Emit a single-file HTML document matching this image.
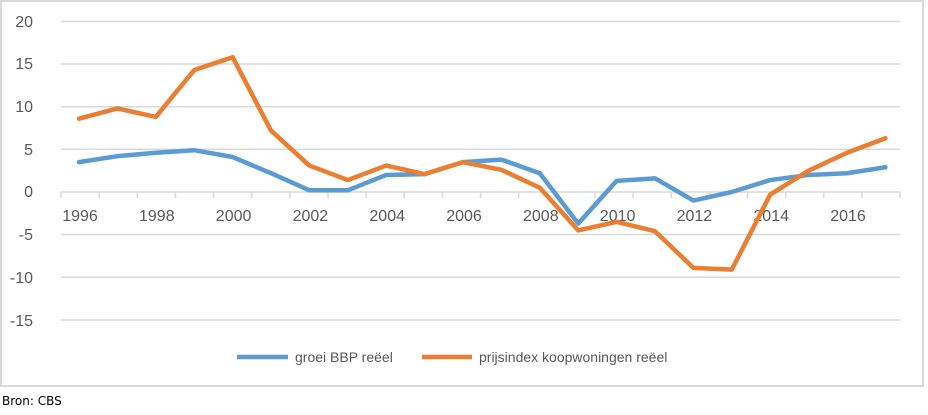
<!DOCTYPE html>
<html><head><meta charset="utf-8"><style>
body{margin:0;background:#fff;width:928px;height:415px;overflow:hidden;font-family:"Liberation Sans","DejaVu Sans",sans-serif}
</style></head><body>
<svg width="928" height="415" xmlns="http://www.w3.org/2000/svg" style="position:absolute;left:0;top:0">
<rect x="1" y="1" width="922" height="385" fill="#fff" stroke="#d9d9d9" stroke-width="2"/>
<g stroke="#d9d9d9" stroke-width="1.5">
<line x1="61" y1="21.5" x2="900" y2="21.5"/>
<line x1="61" y1="64" x2="900" y2="64"/>
<line x1="61" y1="106.7" x2="900" y2="106.7"/>
<line x1="61" y1="149.3" x2="900" y2="149.3"/>
<line x1="61" y1="234.5" x2="900" y2="234.5"/>
<line x1="61" y1="277.3" x2="900" y2="277.3"/>
<line x1="61" y1="320" x2="900" y2="320"/>
<line x1="61" y1="192" x2="900" y2="192"/>
</g>
<g id="ticks" stroke="#d9d9d9" stroke-width="1.5"></g>
<g font-size="16" fill="#595959" text-anchor="end">
<text x="33" y="27">20</text><text x="33" y="69">15</text><text x="33" y="112">10</text>
<text x="33" y="155">5</text><text x="33" y="197">0</text><text x="33" y="240">-5</text>
<text x="33" y="283">-10</text><text x="33" y="326">-15</text>
</g>
<g id="xl" font-size="16" fill="#595959" text-anchor="middle"></g>
<polyline id="b" fill="none" stroke="#5b9bd5" stroke-width="4.5" stroke-linejoin="round" stroke-linecap="round"/>
<polyline id="o" fill="none" stroke="#ed7d31" stroke-width="4.5" stroke-linejoin="round" stroke-linecap="round"/>
<line x1="237" y1="357" x2="288" y2="357" stroke="#5b9bd5" stroke-width="4.5"/>
<text x="295" y="362" font-size="14" fill="#595959">groei BBP reëel</text>
<line x1="422" y1="357" x2="472" y2="357" stroke="#ed7d31" stroke-width="4.5"/>
<text x="479" y="362" font-size="14" fill="#595959">prijsindex koopwoningen reëel</text>
<text x="2" y="405" font-size="12" fill="#000" font-family="DejaVu Sans, sans-serif">Bron: CBS</text>
</svg>
<script>
var o=[8.6,9.8,8.8,14.3,15.8,7.2,3.1,1.4,3.1,2.1,3.5,2.6,0.5,-4.5,-3.5,-4.6,-8.9,-9.1,-0.3,2.5,4.6,6.3];
var b=[3.5,4.2,4.6,4.9,4.1,2.2,0.2,0.2,2.0,2.1,3.5,3.8,2.2,-3.7,1.3,1.6,-1.0,0.0,1.4,2.0,2.2,2.9];
function X(i){return 79+i*38.4}function Y(v){return 192-v*8.53}
document.getElementById('o').setAttribute('points',o.map((v,i)=>X(i)+','+Y(v)).join(' '));
document.getElementById('b').setAttribute('points',b.map((v,i)=>X(i)+','+Y(v)).join(' '));
var t='',l='';for(var i=0;i<=22;i++){var x=61+i*38.14;t+='<line x1="'+x+'" y1="192" x2="'+x+'" y2="198"/>';}
for(var y=1996;y<=2016;y+=2){l+='<text x="'+(X(y-1996)+1)+'" y="221">'+y+'</text>';}
document.getElementById('ticks').innerHTML=t;document.getElementById('xl').innerHTML=l;
</script>
</body></html>
